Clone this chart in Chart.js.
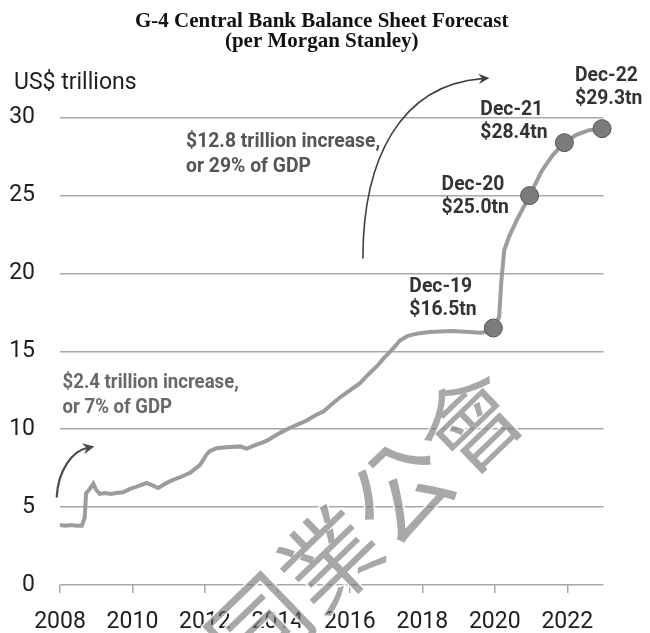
<!DOCTYPE html>
<html>
<head>
<meta charset="utf-8">
<script src="https://cdn.jsdelivr.net/npm/chart.js@4.4.1/dist/chart.umd.min.js"></script>
<style>
  html, body { margin: 0; padding: 0; background: #ffffff; }
  canvas { display: block; }
</style>
</head>
<body>
<canvas id="chart" width="650" height="633"></canvas>
<script>
// G-4 central bank balance sheets, US$ trillions (decimal years on x)
const histDates = [
  2008.00, 2008.15, 2008.30, 2008.45, 2008.60, 2008.68, 2008.72, 2008.80, 2008.92,
  2009.00, 2009.10, 2009.25, 2009.40, 2009.55, 2009.74, 2009.93,
  2010.10, 2010.39, 2010.55, 2010.71, 2010.90,
  2011.12, 2011.35, 2011.59, 2011.86,
  2012.00, 2012.05, 2012.14, 2012.32, 2012.60, 2012.97,
  2013.15, 2013.35, 2013.52, 2013.70, 2013.88,
  2014.10, 2014.35, 2014.60, 2014.81,
  2015.05, 2015.27, 2015.50, 2015.73,
  2016.00, 2016.28, 2016.50, 2016.74, 2016.95,
  2017.10, 2017.24, 2017.38, 2017.60, 2017.93,
  2018.20, 2018.49, 2018.80,
  2019.04, 2019.30, 2019.59, 2019.80
];
const histValues = [
  3.85, 3.80, 3.85, 3.80, 3.80, 4.30, 5.90, 6.10, 6.50,
  6.10, 5.85, 5.90, 5.85, 5.90, 5.95, 6.17,
  6.30, 6.55, 6.40, 6.23, 6.50,
  6.75, 6.95, 7.20, 7.70,
  8.20, 8.40, 8.60, 8.78, 8.85, 8.90,
  8.75, 8.95, 9.10, 9.25, 9.50,
  9.80, 10.10, 10.35, 10.56,
  10.90, 11.14, 11.60, 12.05,
  12.50, 12.96, 13.50, 14.03, 14.60,
  14.95, 15.30, 15.70, 16.00, 16.17,
  16.25, 16.28, 16.30,
  16.28, 16.25, 16.20, 16.25
];
// Morgan Stanley forecast path, Dec-19 onward
const forecastDates = [2019.96, 2020.12, 2020.18, 2020.26, 2020.40, 2020.60, 2020.96,
                       2021.30, 2021.60, 2021.92, 2022.25, 2022.60, 2022.96];
const forecastValues = [16.5, 17.2, 19.5, 21.5, 22.4, 23.4, 25.0,
                        26.6, 27.6, 28.4, 28.9, 29.2, 29.3];

// Year-end call-outs
const markerDates = [2019.96, 2020.96, 2021.92, 2022.96];
const markerValues = [16.5, 25.0, 28.4, 29.3];
const markerLabels = ['Dec-19', 'Dec-20', 'Dec-21', 'Dec-22'];

const yearTicks = [2008, 2010, 2012, 2014, 2016, 2018, 2020, 2022];
const valueTicks = [0, 5, 10, 15, 20, 25, 30];

const titleLines = ['G-4 Central Bank Balance Sheet Forecast', '(per Morgan Stanley)'];
const unitLabel = 'US$ trillions';
const bigIncrease = ['$12.8 trillion increase,', 'or 29% of GDP'];
const smallIncrease = ['$2.4 trillion increase,', 'or 7% of GDP'];
const watermarkText = '同業公會';

const SANS = "Roboto, 'Liberation Sans', sans-serif";

const lineData = histDates.map((d, i) => ({ x: d, y: histValues[i] }))
  .concat(forecastDates.map((d, i) => ({ x: d, y: forecastValues[i] })));
const markerData = markerDates.map((d, i) => ({ x: d, y: markerValues[i] }));

// narrow-set text: squeeze horizontally around the anchor point
function narrowText(ctx, text, x, y, squeeze) {
  ctx.save();
  ctx.translate(x, y);
  ctx.scale(squeeze, 1);
  ctx.fillText(text, 0, 0);
  ctx.restore();
}

function curvedArrow(ctx, p0, p1, p2, p3, color, width, head) {
  ctx.save();
  ctx.strokeStyle = color;
  ctx.fillStyle = color;
  ctx.lineWidth = width;
  ctx.lineCap = 'round';
  const ang = Math.atan2(p3.y - p2.y, p3.x - p2.x);
  const back = { x: p3.x - Math.cos(ang) * head * 0.6, y: p3.y - Math.sin(ang) * head * 0.6 };
  ctx.beginPath();
  ctx.moveTo(p0.x, p0.y);
  ctx.bezierCurveTo(p1.x, p1.y, p2.x, p2.y, back.x, back.y);
  ctx.stroke();
  const spread = 0.45;
  ctx.beginPath();
  ctx.moveTo(p3.x, p3.y);
  ctx.lineTo(p3.x - Math.cos(ang - spread) * head, p3.y - Math.sin(ang - spread) * head);
  ctx.lineTo(back.x, back.y);
  ctx.lineTo(p3.x - Math.cos(ang + spread) * head, p3.y - Math.sin(ang + spread) * head);
  ctx.closePath();
  ctx.fill();
  ctx.restore();
}

const annotationPlugin = {
  id: 'annotations',
  afterDraw(chart) {
    const ctx = chart.ctx;
    const xs = chart.scales.x, ys = chart.scales.y;
    const P = (x, y) => ({ x: xs.getPixelForValue(x), y: ys.getPixelForValue(y) });

    // unit label above the value axis
    ctx.save();
    ctx.font = '23px ' + SANS;
    ctx.fillStyle = '#1e1e1e';
    ctx.textAlign = 'left';
    ctx.textBaseline = 'middle';
    ctx.fillText(unitLabel, 14, ys.getPixelForValue(30) - 34);
    ctx.restore();

    // increase notes
    ctx.save();
    ctx.textAlign = 'left';
    ctx.textBaseline = 'middle';
    ctx.font = 'bold 21px ' + SANS;
    ctx.fillStyle = '#555555';
    let a = P(2011.48, 28.47);
    narrowText(ctx, bigIncrease[0], a.x, a.y, 0.92);
    narrowText(ctx, bigIncrease[1], a.x, a.y + 25, 0.92);
    ctx.fillStyle = '#686868';
    ctx.font = 'bold 20px ' + SANS;
    a = P(2008.07, 12.98);
    narrowText(ctx, smallIncrease[0], a.x, a.y, 0.93);
    narrowText(ctx, smallIncrease[1], a.x, a.y + 25, 0.93);
    ctx.restore();

    // curved arrows
    curvedArrow(ctx, P(2016.36, 21.0), P(2016.36, 27.3), P(2017.38, 32.1), P(2019.85, 32.55),
      '#404040', 1.6, 12);
    curvedArrow(ctx, P(2007.91, 5.67), P(2007.95, 7.4), P(2008.35, 8.6), P(2008.95, 8.9),
      '#4a4a4a', 2.2, 13);

    // year-end call-outs
    const offsets = [
      { dx: -84, dy: -41 },
      { dx: -88, dy: -11 },
      { dx: -84, dy: -33 },
      { dx: -27, dy: -53 }
    ];
    ctx.save();
    ctx.font = 'bold 21px ' + SANS;
    ctx.fillStyle = '#333333';
    ctx.textAlign = 'left';
    ctx.textBaseline = 'middle';
    markerData.forEach((m, i) => {
      const p = P(m.x, m.y);
      const o = offsets[i];
      narrowText(ctx, markerLabels[i], p.x + o.dx, p.y + o.dy, 0.92);
      narrowText(ctx, '$' + markerValues[i].toFixed(1) + 'tn', p.x + o.dx, p.y + o.dy + 23, 0.92);
    });
    ctx.restore();

    // association watermark
    ctx.save();
    ctx.translate(365, 525);
    ctx.rotate(-44 * Math.PI / 180);
    ctx.font = "98px 'Noto Sans CJK TC', 'Noto Sans CJK SC', sans-serif";
    ctx.textAlign = 'center';
    ctx.textBaseline = 'middle';
    ctx.lineWidth = 3;
    ctx.strokeStyle = 'rgba(255,255,255,0.9)';
    ctx.strokeText(watermarkText, 0, 0);
    ctx.fillStyle = 'rgba(110,110,110,0.6)';
    ctx.fillText(watermarkText, 0, 0);
    ctx.restore();
  }
};

new Chart(document.getElementById('chart'), {
  type: 'line',
  data: {
    datasets: [
      {
        label: 'Markers',
        data: markerData,
        showLine: false,
        clip: false,
        pointRadius: 9,
        pointHoverRadius: 9,
        pointBackgroundColor: '#7b7b7b',
        pointBorderColor: '#555555',
        pointBorderWidth: 1,
        order: 0
      },
      {
        label: 'Balance sheet',
        data: lineData,
        clip: false,
        borderColor: '#9c9c9c',
        borderWidth: 4,
        pointRadius: 0,
        tension: 0,
        fill: false,
        order: 1
      }
    ]
  },
  options: {
    responsive: false,
    animation: false,
    events: [],
    layout: { padding: { left: 0, right: 6.5, top: 0, bottom: 0 } },
    plugins: {
      legend: { display: false },
      tooltip: { enabled: false },
      title: {
        display: true,
        text: titleLines,
        color: '#111111',
        font: { family: "'Liberation Serif', 'Times New Roman', serif", size: 21, weight: 'bold', lineHeight: 0.97 },
        padding: { top: 11, bottom: 66 }
      }
    },
    scales: {
      x: {
        type: 'linear',
        min: 2008,
        max: 2023,
        afterBuildTicks: (s) => { s.ticks = yearTicks.map(v => ({ value: v })); },
        afterFit: (s) => { s.height = 48; s.paddingRight = 46.5; },
        border: { display: false },
        grid: { drawOnChartArea: false, drawTicks: true, tickLength: 8, color: '#a8a8a8', lineWidth: 1.5 },
        ticks: {
          color: '#1e1e1e',
          padding: 15,
          maxRotation: 0,
          font: { family: SANS, size: 23 },
          callback: (v) => String(v)
        }
      },
      y: {
        min: 0,
        max: 30,
        afterBuildTicks: (s) => { s.ticks = valueTicks.map(v => ({ value: v })); },
        afterFit: (s) => { s.width = 60; },
        border: { display: false },
        grid: { drawTicks: false, color: '#a8a8a8', lineWidth: 1.5 },
        ticks: {
          color: '#1e1e1e',
          padding: 25,
          font: { family: SANS, size: 23 }
        }
      }
    }
  },
  plugins: [annotationPlugin]
});
</script>
</body>
</html>
